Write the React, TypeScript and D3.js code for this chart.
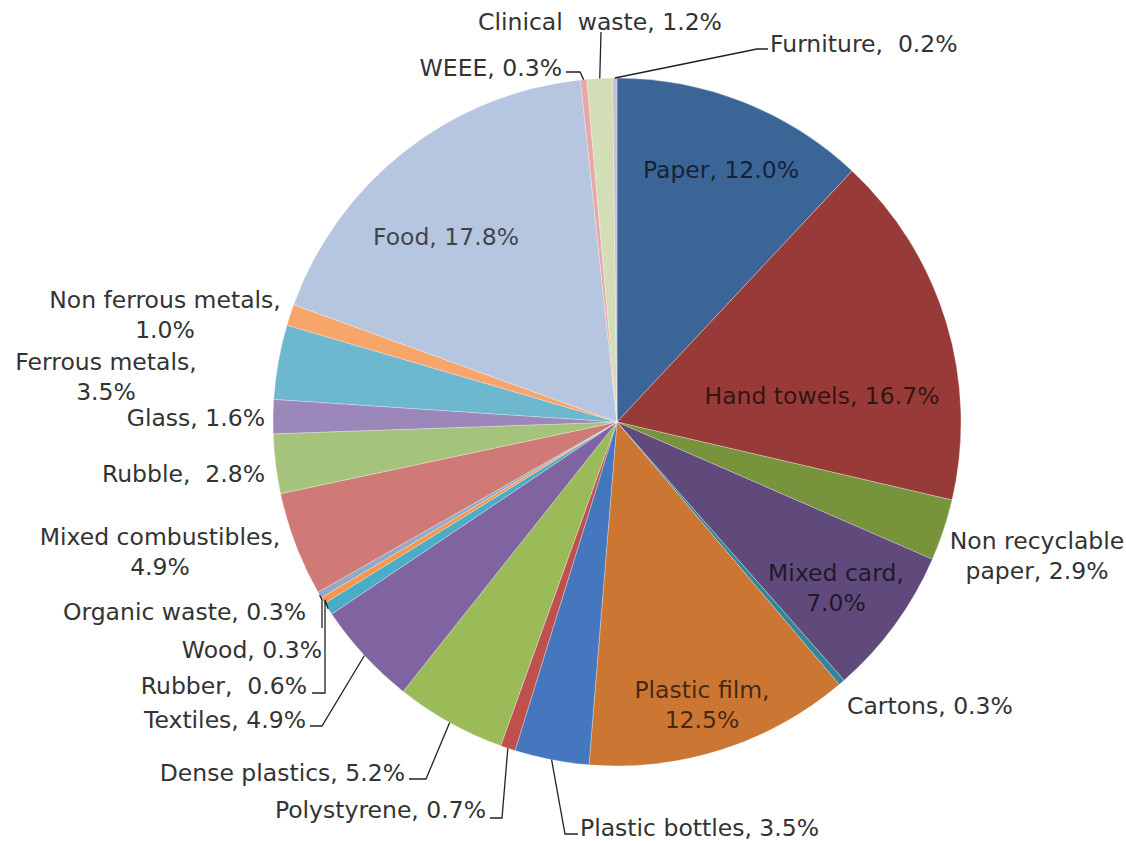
import React from "react";
import * as d3 from "d3";

const categories = [
  "Paper", "Hand towels", "Non recyclable paper", "Mixed card", "Cartons",
  "Plastic film", "Plastic bottles", "Polystyrene", "Dense plastics", "Textiles",
  "Rubber", "Wood", "Organic waste", "Mixed combustibles", "Rubble", "Glass",
  "Ferrous metals", "Non ferrous metals", "Food", "WEEE", "Clinical waste", "Furniture",
];
const values = [
  12.0, 16.7, 2.9, 7.0, 0.3, 12.5, 3.5, 0.7, 5.2, 4.9,
  0.6, 0.3, 0.3, 4.9, 2.8, 1.6, 3.5, 1.0, 17.8, 0.3, 1.2, 0.2,
];
const labelLines = [
  ["Paper, 12.0%"], ["Hand towels, 16.7%"], ["Non recyclable", "paper, 2.9%"],
  ["Mixed card,", "7.0%"], ["Cartons, 0.3%"], ["Plastic film,", "12.5%"],
  ["Plastic bottles, 3.5%"], ["Polystyrene, 0.7%"], ["Dense plastics, 5.2%"],
  ["Textiles, 4.9%"], ["Rubber,  0.6%"], ["Wood, 0.3%"], ["Organic waste, 0.3%"],
  ["Mixed combustibles,", "4.9%"], ["Rubble,  2.8%"], ["Glass, 1.6%"],
  ["Ferrous metals,", "3.5%"], ["Non ferrous metals,", "1.0%"], ["Food, 17.8%"],
  ["WEEE, 0.3%"], ["Clinical  waste, 1.2%"], ["Furniture,  0.2%"],
];
const colors = [
  "#3B6497", "#983B38", "#77933C", "#5F4A7B", "#31869B",
  "#CB7733", "#4477BE", "#C0504D", "#9BBB59", "#8064A2",
  "#4BACC6", "#F79646", "#93A9CC", "#D07A77", "#A5C37A", "#9C87BA",
  "#6DB7CF", "#F8A56A", "#B7C6E0", "#E6A9A7", "#D3DEB6", "#C6BFD8",
];

// label layout: [x, y of first line, anchor, inside?]
type Layout = { x: number; y: number; anchor: string; inside?: boolean; leader?: [number, number][] };
const layout: Layout[] = [
  { x: 721, y: 170, anchor: "middle", inside: true },
  { x: 822, y: 396, anchor: "middle", inside: true },
  { x: 1037, y: 541, anchor: "middle" },
  { x: 836, y: 573, anchor: "middle", inside: true },
  { x: 847, y: 706, anchor: "start" },
  { x: 702, y: 690, anchor: "middle", inside: true },
  { x: 580, y: 828, anchor: "start", leader: [[565, 834], [578, 834]] },
  { x: 486, y: 810, anchor: "end", leader: [[502, 818], [490, 818]] },
  { x: 405, y: 773, anchor: "end", leader: [[426, 779], [409, 779]] },
  { x: 306, y: 720, anchor: "end", leader: [[322, 726], [310, 726]] },
  { x: 307, y: 686, anchor: "end", leader: [[325, 600], [325, 693], [312, 693]] },
  { x: 322, y: 650, anchor: "end" },
  { x: 306, y: 612, anchor: "end", leader: [[322, 600], [322, 628]] },
  { x: 160, y: 537, anchor: "middle" },
  { x: 265, y: 474, anchor: "end" },
  { x: 265, y: 418, anchor: "end" },
  { x: 106, y: 362, anchor: "middle" },
  { x: 165, y: 300, anchor: "middle" },
  { x: 446, y: 237, anchor: "middle", inside: true },
  { x: 562, y: 68, anchor: "end", leader: [[580, 72], [566, 72]] },
  { x: 600, y: 22, anchor: "middle", leader: [[601, 32]] },
  { x: 770, y: 44, anchor: "start", leader: [[757, 49], [768, 49]] },
];

export default function App() {
  const W = 1126, H = 841;
  const cx = 617, cy = 422, R = 344;
  const data = categories.map((c, i) => ({ name: c, value: values[i], i }));
  const pie = d3.pie<any>().sort(null).value((d: any) => d.value).startAngle(0).endAngle(2 * Math.PI);
  const arcs = pie(data);
  const arc = d3.arc<any>().innerRadius(0).outerRadius(R);
  const line = d3.line();

  return (
    <svg width={W} height={H} style={{ position: "absolute", left: 0, top: 0, background: "#fff" }}
      fontFamily="'DejaVu Sans', Verdana, sans-serif" fontSize={23.5}>
      <g transform={`translate(${cx},${cy})`}>
        {arcs.map((a, k) => (
          <path key={k} d={arc(a) as string} fill={colors[k]} stroke="rgba(255,255,255,0.35)" strokeWidth={0.8} />
        ))}
      </g>
      {arcs.map((a, k) => {
        const L = layout[k];
        if (!L.leader) return null;
        const mid = (a.startAngle + a.endAngle) / 2;
        const sx = cx + R * Math.sin(mid);
        const sy = cy - R * Math.cos(mid);
        const pts: [number, number][] = [[sx, sy], ...L.leader];
        return <path key={"l" + k} d={line(pts) as string} fill="none" stroke="#222" strokeWidth={1.3} />;
      })}
      {arcs.map((a, k) => {
        const L = layout[k];
        return (
          <text key={"t" + k} x={L.x} y={L.y} textAnchor={L.anchor as any} dominantBaseline="central"
            fill={L.inside ? "rgba(0,0,0,0.68)" : "#333"}>
            {labelLines[k].map((s, j) => (
              <tspan key={j} x={L.x} dy={j === 0 ? 0 : 29.5} style={{ whiteSpace: "pre" }}>{s}</tspan>
            ))}
          </text>
        );
      })}
    </svg>
  );
}
